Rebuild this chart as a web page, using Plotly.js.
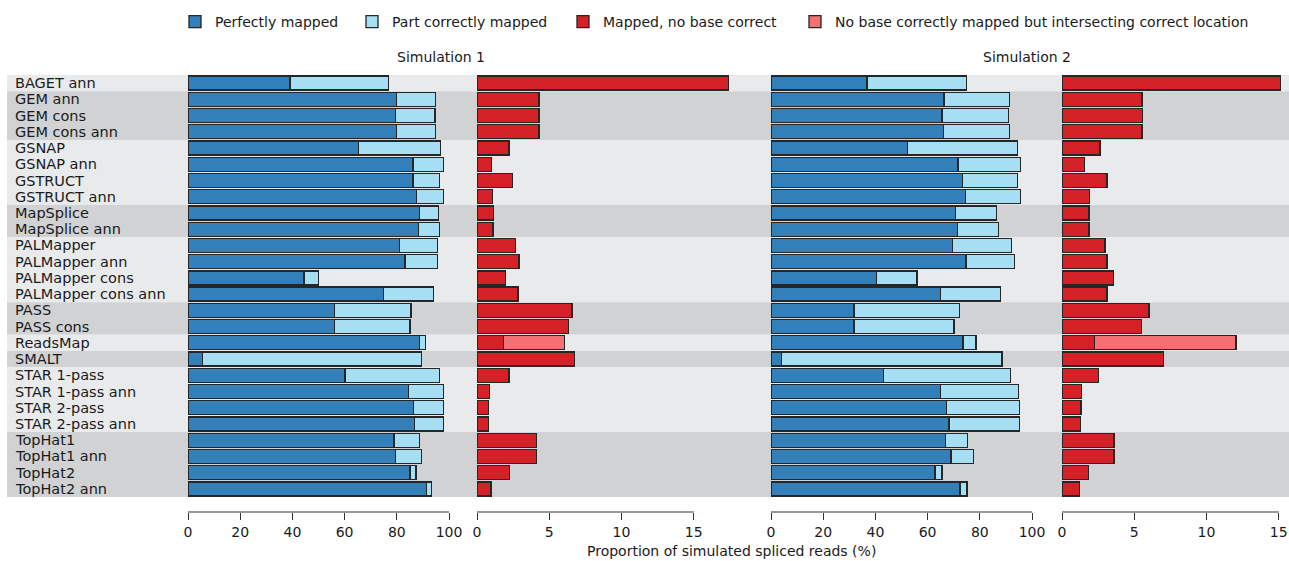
<!DOCTYPE html>
<html>
<head>
<meta charset="utf-8">
<script src="https://cdn.plot.ly/plotly-3.0.1.min.js"></script>
<style>html,body{margin:0;padding:0;background:#fff;}#chart{width:1289px;height:561px;}</style>
</head>
<body>
<div id="chart"></div>
<script>
// ---- data ----
const categories = ["BAGET ann","GEM ann","GEM cons","GEM cons ann","GSNAP","GSNAP ann","GSTRUCT","GSTRUCT ann","MapSplice","MapSplice ann","PALMapper","PALMapper ann","PALMapper cons","PALMapper cons ann","PASS","PASS cons","ReadsMap","SMALT","STAR 1-pass","STAR 1-pass ann","STAR 2-pass","STAR 2-pass ann","TopHat1","TopHat1 ann","TopHat2","TopHat2 ann"];
const toolGroup = ["BAGET","GEM","GEM","GEM","GSNAP","GSNAP","GSNAP","GSNAP","MapSplice","MapSplice","PALMapper","PALMapper","PALMapper","PALMapper","PASS","PASS","ReadsMap","SMALT","STAR","STAR","STAR","STAR","TopHat","TopHat","TopHat","TopHat"];

const sim1Perfect = [39.1,79.9,79.6,79.9,65.3,86.2,86.2,87.6,88.8,88.4,81.0,83.1,44.4,74.8,56.1,56.1,88.6,5.5,60.2,84.4,86.3,86.7,78.9,79.6,85.1,91.4];
const sim1Part    = [37.7,14.9,15.0,14.9,31.4,11.8,10.2,10.2,7.1,7.9,14.5,12.6,5.5,19.3,29.3,29.0,2.3,84.0,36.1,13.6,11.7,11.3,9.7,9.8,2.3,1.8];
const sim1NoBase  = [17.39,4.29,4.29,4.29,2.21,0.99,2.47,1.06,1.15,1.11,2.65,2.91,1.98,2.84,6.57,6.32,1.82,6.74,2.21,0.85,0.81,0.81,4.11,4.11,2.24,0.97];
const sim1Intersect = [null,null,null,null,null,null,null,null,null,null,null,null,null,null,null,null,4.25,null,null,null,null,null,null,null,null,null];

const sim2Perfect = [36.8,66.3,65.5,66.2,52.4,71.6,73.3,74.6,70.8,71.4,69.5,74.7,40.5,65.0,31.8,31.8,73.6,4.1,43.0,65.0,67.3,68.2,66.9,69.0,62.8,72.4];
const sim2Part    = [38.0,25.0,25.6,25.1,42.0,23.9,21.1,20.9,15.5,15.8,22.7,18.5,15.4,23.0,40.4,38.3,4.9,84.4,48.7,29.8,27.8,26.9,8.5,8.5,2.7,2.7];
const sim2NoBase  = [15.13,5.54,5.58,5.54,2.63,1.57,3.11,1.91,1.87,1.87,2.98,3.11,3.58,3.11,6.02,5.49,2.24,7.01,2.51,1.36,1.31,1.29,3.60,3.60,1.82,1.22];
const sim2Intersect = [null,null,null,null,null,null,null,null,null,null,null,null,null,null,null,null,9.80,null,null,null,null,null,null,null,null,null];

const seriesNames = ["Perfectly mapped","Part correctly mapped","Mapped, no base correct","No base correctly mapped but intersecting correct location"];
const panelTitles = ["Simulation 1","Simulation 2"];
const pctTicks = [0,20,40,60,80,100];
const wrongTicks = [0,5,10,15];
const xTitle = "Proportion of simulated spliced reads (%)";

// ---- styling ----
const W = 1289, H = 561;
const FONT = "DejaVu Sans";
const colors = ["#337FBA","#A6DEF3","#D42027","#F27173"];
const outline = {color:"#262626", width:1.3};
const px = v => v / W;
const plotTop = 75, plotBottom = 512;
const plotH = plotBottom - plotTop;
const py = v => 1 - (v - plotTop) / plotH; // pixel y -> paper y
const legendIds = ["legend","legend2","legend3","legend4"];
const legendLeftPx = [175, 352, 563, 795];

const yIdx = categories.map((c,i)=>i);

function bar(x, xaxis, ci, showlegend){
  return {type:"bar", orientation:"h", y: yIdx, x: x, xaxis: xaxis, yaxis:"y",
    name: seriesNames[ci], showlegend: showlegend, legend: legendIds[ci], legendgroup: "g"+ci,
    marker:{color: colors[ci], line: outline}, hoverinfo:"skip"};
}

const data = [
  bar(sim1Perfect,"x",0,true),
  bar(sim1Part,"x",1,true),
  bar(sim1NoBase,"x2",2,true),
  bar(sim1Intersect,"x2",3,true),
  bar(sim2Perfect,"x3",0,false),
  bar(sim2Part,"x3",1,false),
  bar(sim2NoBase,"x4",2,false),
  bar(sim2Intersect,"x4",3,false)
];

// background bands from consecutive tool groups
const shapes = [];
let start = 0, shade = 0;
for (let i = 1; i <= categories.length; i++){
  if (i === categories.length || toolGroup[i] !== toolGroup[start]){
    shapes.push({type:"rect", layer:"below", xref:"paper", yref:"y",
      x0: px(7), x1: 1, y0: start - 0.5, y1: i - 0.5,
      fillcolor: shade % 2 === 0 ? "#E9EAEC" : "#D1D2D4", line:{width:0}});
    shade++; start = i;
  }
}
// axis lines spanning the tick range only
[["x",pctTicks],["x2",wrongTicks],["x3",pctTicks],["x4",wrongTicks]].forEach(([ax,t])=>{
  shapes.push({type:"line", xref: ax, yref:"paper", x0: t[0], x1: t[t.length-1], y0: 0, y1: 0,
    line:{color:"#333", width:1}});
});

function xax(domainPx, range, ticks){
  return {domain:[px(domainPx[0]), px(domainPx[1])], range: range, anchor:"y",
    showgrid:false, zeroline:false, showline:false, fixedrange:true,
    tickmode:"array", tickvals: ticks, ticktext: ticks.map(String),
    ticks:"outside", ticklen:7, tickwidth:1, tickcolor:"#333",
    tickfont:{family:FONT, size:14, color:"#1a1a1a"}};
}

const annotations = categories.map((c,i)=>({
  text: c, xref:"paper", yref:"y", x: px(13), y: i, xanchor:"left", yanchor:"middle",
  showarrow:false, font:{family:FONT, size:14.5, color:"#1a1a1a"}
}));
annotations.push({text: panelTitles[0], xref:"paper", yref:"paper", x: px(441), y: py(57),
  xanchor:"center", yanchor:"middle", showarrow:false, font:{family:FONT, size:14, color:"#1a1a1a"}});
annotations.push({text: panelTitles[1], xref:"paper", yref:"paper", x: px(1027), y: py(57),
  xanchor:"center", yanchor:"middle", showarrow:false, font:{family:FONT, size:14, color:"#1a1a1a"}});
annotations.push({text: xTitle, xref:"paper", yref:"paper", x: px(731), y: py(551),
  xanchor:"center", yanchor:"middle", showarrow:false, font:{family:FONT, size:14, color:"#1a1a1a"}});

const layout = {
  width: W, height: H,
  margin:{l:0, r:0, t:plotTop, b:H-plotBottom, pad:0},
  paper_bgcolor:"#fff", plot_bgcolor:"#fff",
  barmode:"stack", bargap:0.14,
  font:{family:FONT, size:14, color:"#1a1a1a"},
  showlegend:true,
  xaxis: xax([188,449],[0,100],pctTicks),
  xaxis2: xax([477,765],[0,288/14.45],wrongTicks),
  xaxis3: xax([771,1032],[0,100],pctTicks),
  xaxis4: xax([1062,1287],[0,225/14.45],wrongTicks),
  yaxis:{domain:[0,1], range:[25.5 + (plotBottom-497)/16.23, -0.5], showticklabels:false,
    showgrid:false, zeroline:false, showline:false, ticks:"", fixedrange:true, type:"linear"},
  shapes: shapes,
  annotations: annotations
};
legendIds.forEach((id,i)=>{
  layout[id] = {orientation:"h", x: px(legendLeftPx[i]), xanchor:"left", y: py(6), yanchor:"top",
    font:{family:FONT, size:14, color:"#1a1a1a"}, itemwidth:30, bgcolor:"rgba(0,0,0,0)",
    itemclick:false, itemdoubleclick:false};
});

Plotly.newPlot("chart", data, layout, {displayModeBar:false, staticPlot:true});
</script>
</body>
</html>
